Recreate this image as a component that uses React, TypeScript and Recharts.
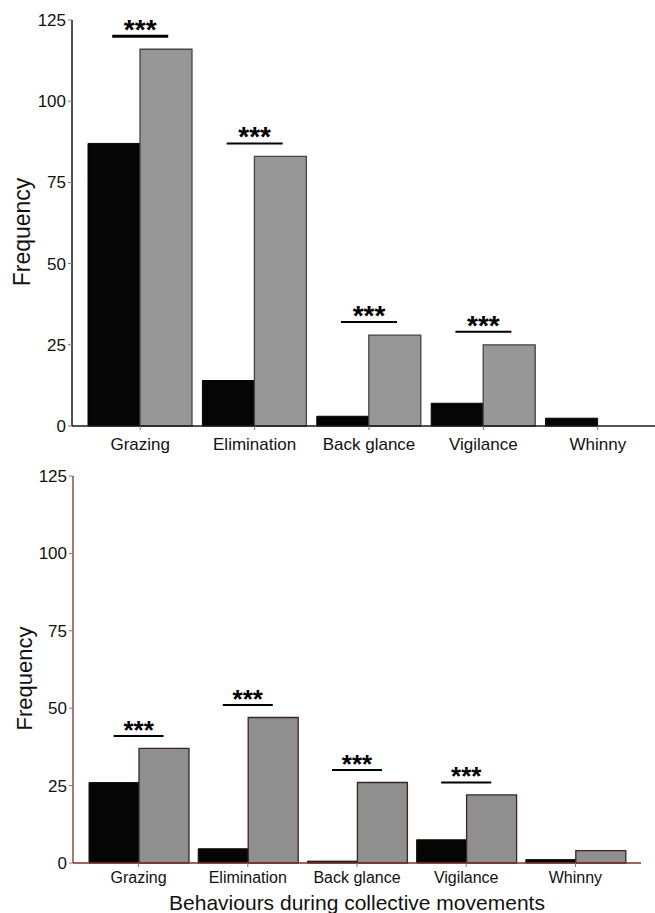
import React from 'react';
import { ComposedChart, Bar, Scatter, XAxis, YAxis, Label } from 'recharts';

const categories = ['Grazing', 'Elimination', 'Back glance', 'Vigilance', 'Whinny'];
const yTicks = [0, 25, 50, 75, 100, 125];

// Top panel
const topBlack = [87, 14, 3, 7, 2.4];
const topGray = [116, 83, 28, 25, 0];
const topSig = [120, 87, 32, 29, null];

// Bottom panel
const bottomBlack = [26, 4.6, 0.6, 7.5, 1.1];
const bottomGray = [37, 47, 26, 22, 4];
const bottomSig = [41, 51, 30, 26, null];

const xTitle = 'Behaviours during collective movements';
const yTitle = 'Frequency';
const sigText = '***';

const build = (black: number[], gray: number[], sig: (number | null)[]) =>
  categories.map((cat, i) => ({ cat, black: black[i], gray: gray[i], sig: sig[i] }));

const topData = build(topBlack, topGray, topSig);
const bottomData = build(bottomBlack, bottomGray, bottomSig);

const FONT = '"Liberation Sans", Arial, Helvetica, sans-serif';

const makeSigShape = (half: number, fontSize: number, thickFirst: boolean) => (props: any) => {
  const { cx, cy, payload } = props;
  if (!payload || payload.sig == null || cy == null || isNaN(cy)) return <g />;
  const sw = thickFirst && payload.cat === categories[0] ? 3 : 2;
  return (
    <g>
      <line x1={cx - half} x2={cx + half} y1={cy} y2={cy} stroke="#000" strokeWidth={sw} />
      <text
        x={cx}
        y={cy + fontSize * 0.1}
        textAnchor="middle"
        fontSize={fontSize}
        fontWeight="bold"
        fontFamily={FONT}
        fill="#000"
      >
        {sigText}
      </text>
    </g>
  );
};

const makeYLabel = (baselineX: number, shift: number, fontSize: number) => (props: any) => {
  const vb = props.viewBox || {};
  const x = (vb.x || 0) + baselineX;
  const y = (vb.y || 0) + (vb.height || 0) / 2 + shift;
  return (
    <text
      x={x}
      y={y}
      transform={`rotate(-90 ${x} ${y})`}
      textAnchor="middle"
      fontSize={fontSize}
      fontFamily={FONT}
      fill="#111"
    >
      {yTitle}
    </text>
  );
};

export default function App() {
  const bottomAxis = '#7a3426';
  return (
    <div
      style={{
        position: 'absolute',
        left: 0,
        top: 0,
        width: 655,
        height: 913,
        overflow: 'hidden',
        background: '#fff',
        fontFamily: FONT,
      }}
    >
      <div style={{ position: 'absolute', left: 0, top: 0 }}>
        <ComposedChart
          width={655}
          height={460}
          data={topData}
          margin={{ top: 20, right: 0, bottom: 0, left: 0 }}
          barCategoryGap={5}
          barGap={0}
        >
          <XAxis
            dataKey="cat"
            height={34}
            interval={0}
            padding={{ left: 11, right: 0 }}
            tickSize={4}
            tickMargin={8}
            tickLine={{ stroke: '#777' }}
            axisLine={{ stroke: '#1a1a1a', strokeWidth: 1.5 }}
            tick={{ fontSize: 17, fill: '#111', fontFamily: FONT }}
          />
          <YAxis
            width={72}
            domain={[0, 125]}
            ticks={yTicks}
            interval={0}
            tickSize={4}
            tickMargin={2}
            tickLine={{ stroke: '#777' }}
            axisLine={{ stroke: '#1a1a1a', strokeWidth: 1.5 }}
            tick={{ fontSize: 17, fill: '#111', fontFamily: FONT }}
          >
            <Label content={makeYLabel(30, 9, 23)} />
          </YAxis>
          <Bar dataKey="black" fill="#050505" stroke="#050505" strokeWidth={1} isAnimationActive={false} />
          <Bar dataKey="gray" fill="#979797" stroke="#454545" strokeWidth={1.3} isAnimationActive={false} />
          <Scatter dataKey="sig" shape={makeSigShape(28, 28, true)} isAnimationActive={false} />
        </ComposedChart>
      </div>
      <div style={{ position: 'absolute', left: 0, top: 460 }}>
        <ComposedChart
          width={655}
          height={453}
          data={bottomData}
          margin={{ top: 16, right: 14, bottom: 0, left: 0 }}
          barCategoryGap={5}
          barGap={0}
        >
          <XAxis
            dataKey="cat"
            height={50}
            interval={0}
            padding={{ left: 11, right: 11 }}
            tickSize={4}
            tickMargin={5}
            tickLine={{ stroke: '#777' }}
            axisLine={{ stroke: bottomAxis, strokeWidth: 1.3 }}
            tick={{ fontSize: 16, fill: '#111', fontFamily: FONT }}
          >
            <Label
              value={xTitle}
              position="insideBottom"
              offset={3}
              fontSize={21}
              fill="#111"
              fontFamily={FONT}
            />
          </XAxis>
          <YAxis
            width={73}
            domain={[0, 125]}
            ticks={yTicks}
            interval={0}
            tickSize={4}
            tickMargin={2}
            tickLine={{ stroke: '#777' }}
            axisLine={{ stroke: bottomAxis, strokeWidth: 1.3 }}
            tick={{ fontSize: 17, fill: '#111', fontFamily: FONT }}
          >
            <Label content={makeYLabel(32, 9, 22)} />
          </YAxis>
          <Bar dataKey="black" fill="#050505" stroke="#1a0f0d" strokeWidth={1} isAnimationActive={false} />
          <Bar dataKey="gray" fill="#8f8f8f" stroke="#3b2522" strokeWidth={1.3} isAnimationActive={false} />
          <Scatter dataKey="sig" shape={makeSigShape(25, 26, false)} isAnimationActive={false} />
        </ComposedChart>
      </div>
    </div>
  );
}
